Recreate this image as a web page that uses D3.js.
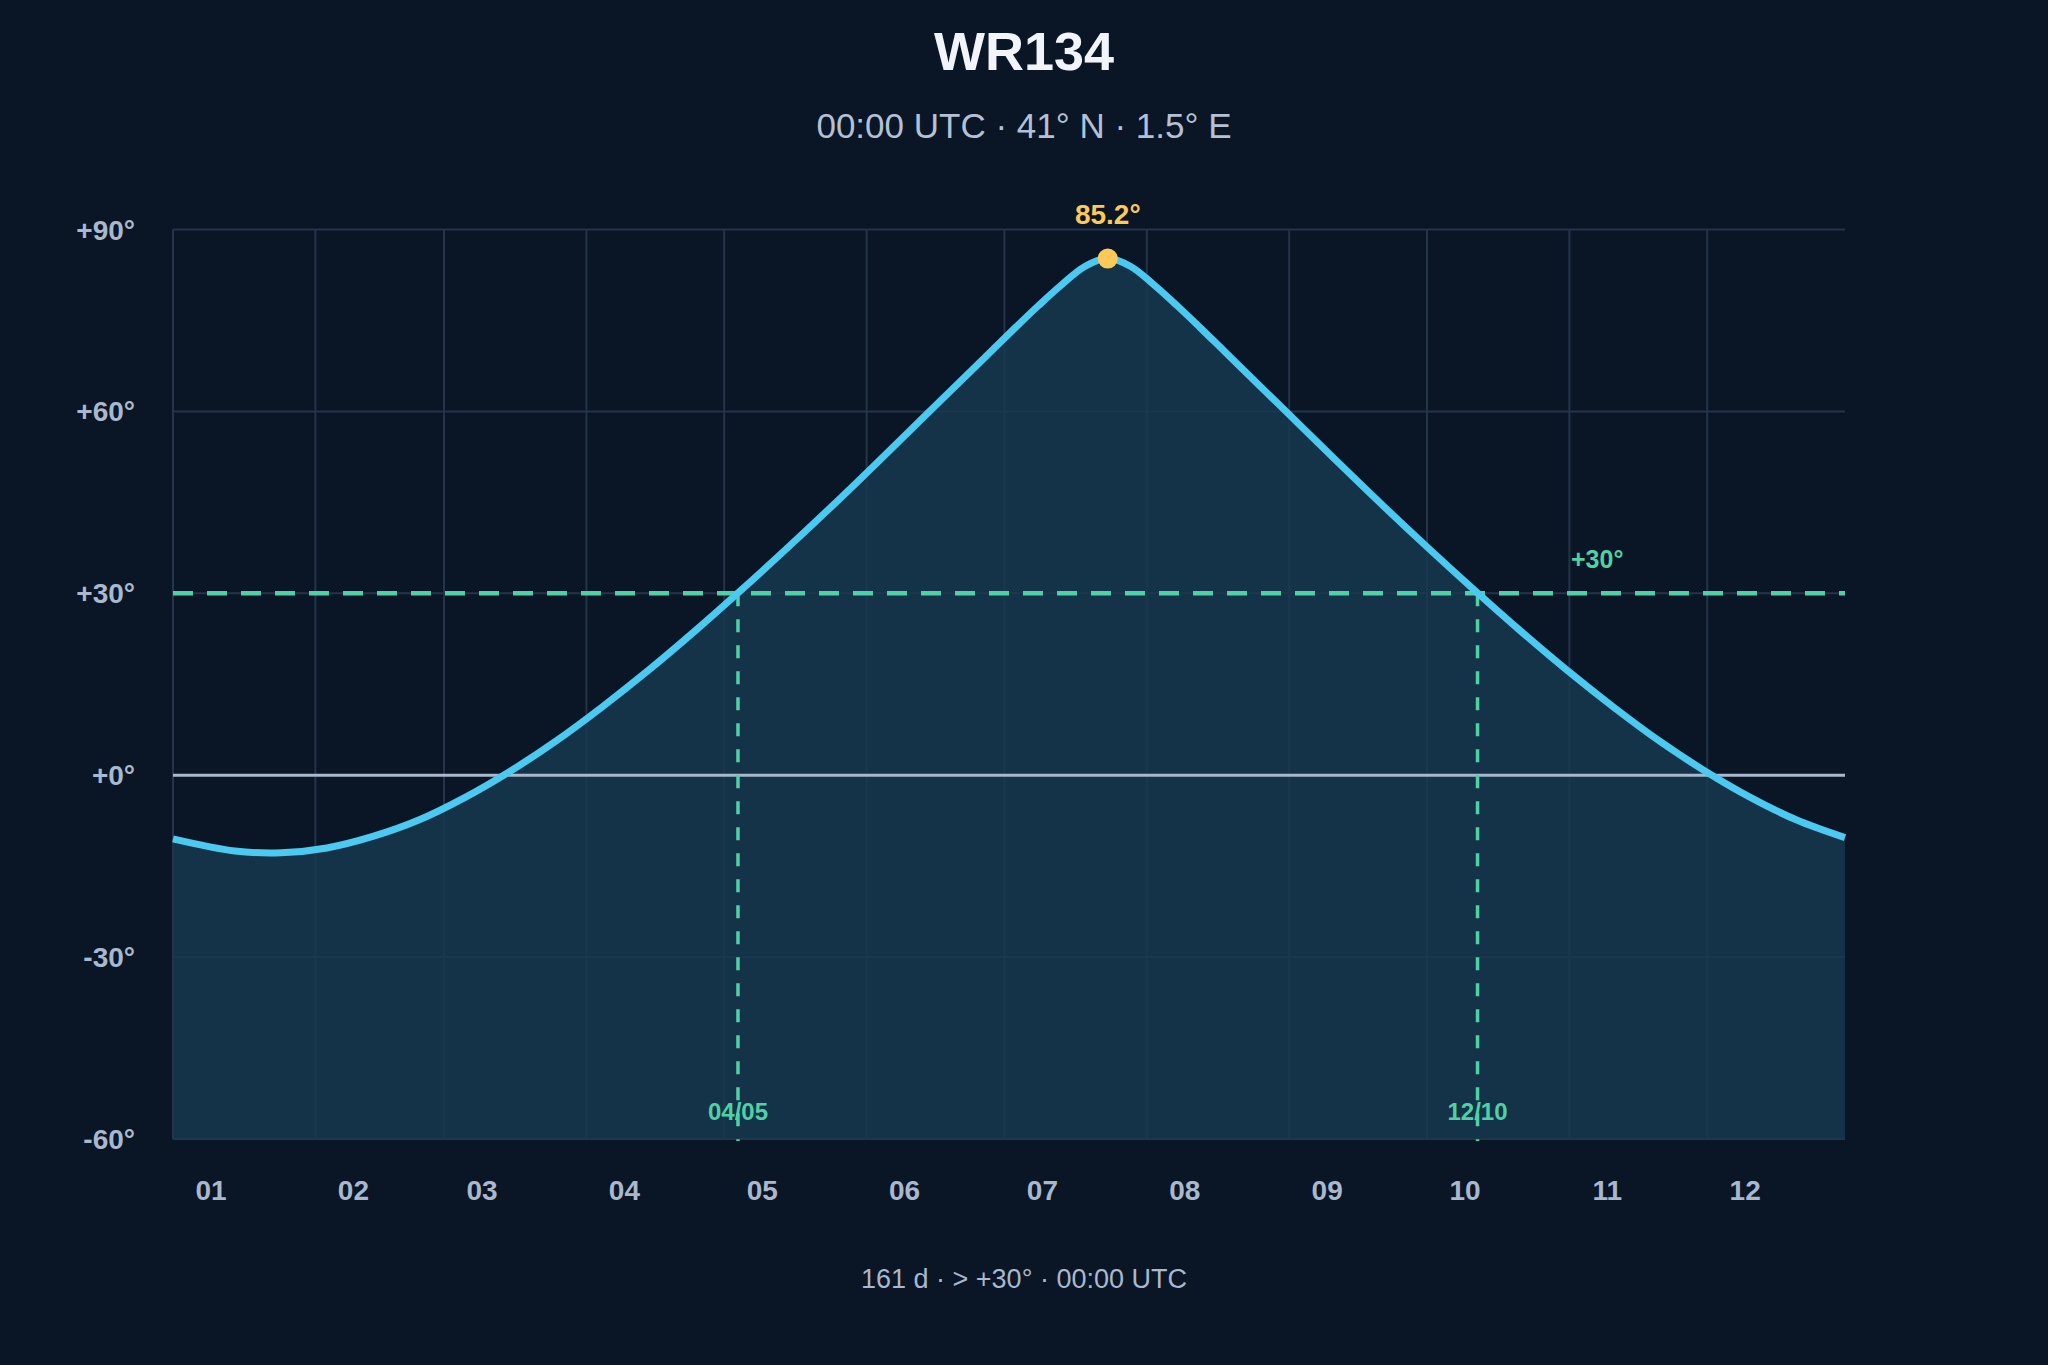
<!DOCTYPE html>
<html lang="en">
<head>
  <meta charset="UTF-8">
  <title>WR134</title>
  <script src="https://cdn.jsdelivr.net/npm/d3@7"></script>
  <style>
    html, body { margin: 0; padding: 0; background: #0a1526; }
    svg { display: block; font-family: "Liberation Sans", Arial, Helvetica, sans-serif; }
  </style>
</head>
<body>
  <svg id="chart"></svg>
  <script>
    // day of year (0 = 1 Jan) and altitude at 00:00 UTC
    var sampleDays = [0, 13.5, 23.5, 33.5, 43.5, 53.5, 63.5, 73.5, 83.5, 93.5, 103.5, 113.5, 123.5, 133.5, 143.5, 153.5, 163.5, 173.5, 178.5,
                      183.5, 188.5, 193.5, 198.5, 203.5, 208.5, 213.5, 218.5, 223.5,
                      228.5, 233.5, 243.5, 253.5, 263.5, 273.5, 283.5, 293.5, 303.5, 313.5, 323.5, 333.5, 343.5, 353.5, 364];
    var altitudes = [-10.5, -12.5, -12.8, -12.0, -10.1, -7.4, -3.7, 0.7, 5.7, 11.3, 17.3, 23.7, 30.4, 37.3, 44.4, 51.7, 59.1, 66.5, 70.2,
                     73.9, 77.5, 80.9, 83.9, 85.2, 83.9, 80.9, 77.5, 73.9,
                     70.2, 66.5, 59.1, 51.7, 44.4, 37.3, 30.4, 23.7, 17.3, 11.3, 5.7, 0.7, -3.7, -7.4, -10.3];
    var yTicks = [-60, -30, 0, 30, 60, 90];
    var monthLabels = ["01", "02", "03", "04", "05", "06", "07", "08", "09", "10", "11", "12"];
    var threshold = 30;
    var crossDays = [123, 284];   // 04/05 and 12/10
    var peakDay = 203.5;
    var peakAlt = 85.2;

    var width = 2048, height = 1365;
    var margin = { top: 229.5, right: 203, bottom: 226, left: 173 };
    var innerW = width - margin.left - margin.right;
    var innerH = height - margin.top - margin.bottom;

    var year = 2023;
    var start = new Date(year, 0, 1);
    var dayDate = function(d) { return new Date(+start + d * 86400000); };

    var svg = d3.select("#chart").attr("width", width).attr("height", height);
    svg.append("rect").attr("width", width).attr("height", height).attr("fill", "#0a1526");

    var x = d3.scaleTime()
        .domain([start, new Date(year, 11, 31)])
        .range([0, innerW]);
    var y = d3.scaleLinear().domain([-60, 90]).range([innerH, 0]);

    var g = svg.append("g").attr("transform", "translate(" + margin.left + "," + margin.top + ")");

    var months = d3.timeMonth.range(start, new Date(year, 11, 31));
    var data = sampleDays.map(function(d, i) { return { date: dayDate(d), alt: altitudes[i] }; });

    // grid
    g.append("g").selectAll("line").data(yTicks).enter().append("line")
        .attr("x1", 0).attr("x2", innerW)
        .attr("y1", function(d) { return y(d); }).attr("y2", function(d) { return y(d); })
        .attr("stroke", "#243449").attr("stroke-width", 2);
    g.append("g").selectAll("line").data(months).enter().append("line")
        .attr("x1", function(d) { return x(d); }).attr("x2", function(d) { return x(d); })
        .attr("y1", 0).attr("y2", innerH)
        .attr("stroke", "#243449").attr("stroke-width", 2);

    // area under curve
    var area = d3.area()
        .x(function(d) { return x(d.date); })
        .y0(innerH)
        .y1(function(d) { return y(d.alt); })
        .curve(d3.curveCatmullRom);
    g.append("path").datum(data).attr("d", area)
        .attr("fill", "#17384e").attr("fill-opacity", 0.86);

    // horizon
    g.append("line")
        .attr("x1", 0).attr("x2", innerW).attr("y1", y(0)).attr("y2", y(0))
        .attr("stroke", "#a9b8cc").attr("stroke-width", 3);

    // threshold line
    g.append("line")
        .attr("x1", 0).attr("x2", innerW).attr("y1", y(threshold)).attr("y2", y(threshold))
        .attr("stroke", "#4fd1a5").attr("stroke-width", 4.5).attr("stroke-dasharray", "20,14");

    g.append("text")
        .attr("x", innerW - 274).attr("y", y(threshold) - 25)
        .attr("fill", "#4fd1a5").attr("font-size", 25).attr("font-weight", "bold")
        .text("+" + threshold + "°");

    // crossing markers
    var fmt = d3.timeFormat("%d/%m");
    var cross = g.append("g").selectAll("g").data(crossDays).enter().append("g");
    cross.append("line")
        .attr("x1", function(d) { return x(dayDate(d)); }).attr("x2", function(d) { return x(dayDate(d)); })
        .attr("y1", y(threshold)).attr("y2", innerH + 2)
        .attr("stroke", "#4fd1a5").attr("stroke-width", 3.5).attr("stroke-dasharray", "13,13");
    cross.append("text")
        .attr("x", function(d) { return x(dayDate(d)); })
        .attr("y", innerH - 19)
        .attr("text-anchor", "middle")
        .attr("fill", "#4fd1a5").attr("font-size", 24).attr("font-weight", "bold")
        .text(function(d) { return fmt(dayDate(d)); });

    // curve
    var line = d3.line()
        .x(function(d) { return x(d.date); })
        .y(function(d) { return y(d.alt); })
        .curve(d3.curveCatmullRom);
    g.append("path").datum(data).attr("d", line)
        .attr("fill", "none").attr("stroke", "#4cc9f0").attr("stroke-width", 7)
        .attr("stroke-linejoin", "round");

    // peak
    g.append("circle")
        .attr("cx", x(dayDate(peakDay))).attr("cy", y(peakAlt)).attr("r", 10)
        .attr("fill", "#fbc85a");
    g.append("text")
        .attr("x", x(dayDate(peakDay))).attr("y", y(peakAlt) - 35)
        .attr("text-anchor", "middle")
        .attr("fill", "#fbc85a").attr("font-size", 28).attr("font-weight", "bold")
        .text(peakAlt.toFixed(1) + "°");

    // y labels
    g.append("g").selectAll("text").data(yTicks).enter().append("text")
        .attr("x", -38).attr("y", function(d) { return y(d); })
        .attr("dy", "0.36em")
        .attr("text-anchor", "end")
        .attr("fill", "#a9b8cc").attr("font-size", 28).attr("font-weight", "bold")
        .text(function(d) { return (d >= 0 ? "+" : "") + d + "°"; });

    // x labels
    g.append("g").selectAll("text").data(months).enter().append("text")
        .attr("x", function(d) { return x(d) + 38; })
        .attr("y", innerH + 61)
        .attr("text-anchor", "middle")
        .attr("fill", "#a9b8cc").attr("font-size", 28).attr("font-weight", "bold")
        .text(function(d, i) { return monthLabels[i]; });

    // titles
    svg.append("text")
        .attr("x", width / 2).attr("y", 70)
        .attr("text-anchor", "middle")
        .attr("fill", "#f1f5fb").attr("font-size", 54).attr("font-weight", "bold")
        .text("WR134");
    svg.append("text")
        .attr("x", width / 2).attr("y", 138)
        .attr("text-anchor", "middle")
        .attr("fill", "#b4c1d4").attr("font-size", 35)
        .text("00:00 UTC · 41° N · 1.5° E");

    var nDays = crossDays[1] - crossDays[0];
    svg.append("text")
        .attr("x", width / 2).attr("y", 1288)
        .attr("text-anchor", "middle")
        .attr("fill", "#a9b8cc").attr("font-size", 27)
        .text(nDays + " d · > +" + threshold + "° · 00:00 UTC");
  </script>
</body>
</html>
